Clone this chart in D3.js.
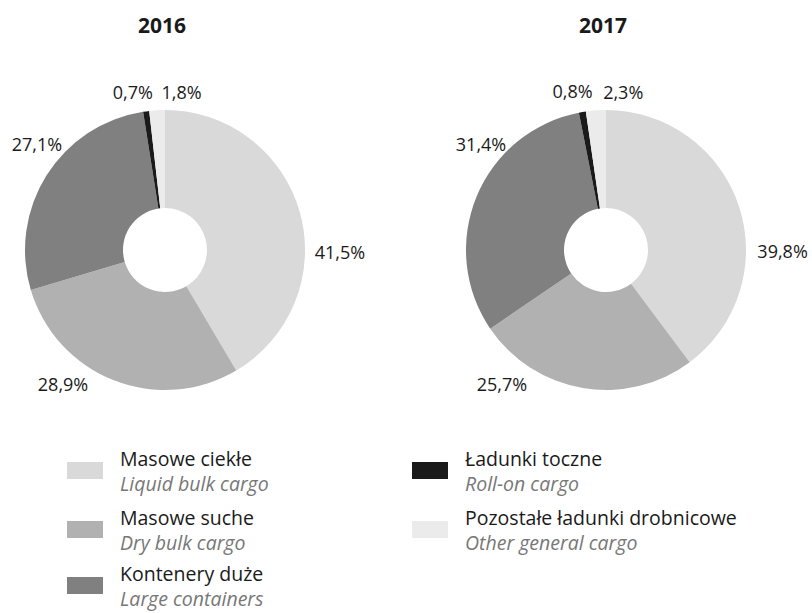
<!DOCTYPE html>
<html>
<head>
<meta charset="utf-8">
<script src="https://cdn.jsdelivr.net/npm/d3@7"></script>
<style>
  body { margin: 0; background: #fff; }
  svg { font-family: "Open Sans", sans-serif; }
</style>
</head>
<body>
<div class="canvas"></div>
<script>
const categoriesPl = ["Masowe ciekłe", "Masowe suche", "Kontenery duże", "Ładunki toczne", "Pozostałe ładunki drobnicowe"];
const categoriesEn = ["Liquid bulk cargo", "Dry bulk cargo", "Large containers", "Roll-on cargo", "Other general cargo"];
const colors = ["#d9d9d9", "#b0b1b0", "#808080", "#1a1a1a", "#ebebeb"];
const years = ["2016", "2017"];
const values2016 = [41.5, 28.9, 27.1, 0.7, 1.8];
const values2017 = [39.8, 25.7, 31.4, 0.8, 2.3];
// label nudges (px) relative to the outside point of each slice
const nudge2016 = [[5, 42, "start"], [-22, -5, "end"], [24, -25, "end"], [8, -9, "end"], [5, -8, "start"]];
const nudge2017 = [[9, 49, "start"], [-54, -13, "end"], [39, -48, "end"], [12, -10, "end"], [8, -8, "start"]];

const width = 812, height = 613;
const outerR = 140, innerR = 42, labelR = 150;

const svg = d3.select(".canvas").append("svg").attr("width", width).attr("height", height);

const pie = d3.pie().sort(null).value((d) => d);
const arc = d3.arc().innerRadius(innerR).outerRadius(outerR);
const fmt = (v) => v.toFixed(1).replace(".", ",") + "%";

const charts = [
  { year: years[0], values: values2016, nudge: nudge2016, cx: 165 },
  { year: years[1], values: values2017, nudge: nudge2017, cx: 606 },
];

charts.forEach((c) => {
  const g = svg.append("g").attr("transform", `translate(${c.cx},250)`);

  svg.append("text")
    .attr("x", c.cx - 3).attr("y", 33)
    .attr("text-anchor", "middle")
    .attr("font-weight", "bold").attr("font-size", 21).attr("fill", "#1a1a1a")
    .text(c.year);

  const arcs = pie(c.values);
  g.selectAll("path").data(arcs).enter().append("path")
    .attr("d", arc)
    .attr("fill", (d, i) => colors[i]);

  g.selectAll("text.lbl").data(arcs).enter().append("text")
    .attr("class", "lbl")
    .attr("x", (d, i) => labelR * Math.sin((d.startAngle + d.endAngle) / 2) + c.nudge[i][0])
    .attr("y", (d, i) => -labelR * Math.cos((d.startAngle + d.endAngle) / 2) + c.nudge[i][1])
    .attr("dy", "0.35em")
    .attr("text-anchor", (d, i) => c.nudge[i][2])
    .attr("font-size", 18).attr("fill", "#1a1a1a")
    .text((d) => fmt(d.data));
});

// legend
const legendPos = [[67, 462], [67, 521], [67, 577], [412, 462], [412, 521]];
const legend = svg.selectAll("g.leg").data(categoriesPl).enter().append("g")
  .attr("class", "leg")
  .attr("transform", (d, i) => `translate(${legendPos[i][0]},${legendPos[i][1]})`);

legend.append("rect")
  .attr("width", 36).attr("height", 17)
  .attr("fill", (d, i) => colors[i]);

legend.append("text")
  .attr("x", 53).attr("y", 4)
  .attr("font-size", 19.5).attr("fill", "#1a1a1a")
  .text((d) => d);

legend.append("text")
  .attr("x", 53).attr("y", 29)
  .attr("font-size", 19.5).attr("font-style", "italic").attr("fill", "#777")
  .text((d, i) => categoriesEn[i]);
</script>
</body>
</html>
